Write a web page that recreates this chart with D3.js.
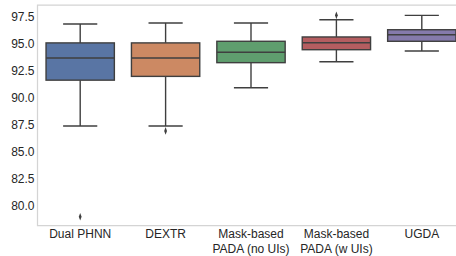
<!DOCTYPE html>
<html>
<head>
<meta charset="utf-8">
<script src="https://cdn.jsdelivr.net/npm/d3@7"></script>
<style>
  body { margin: 0; background: #fff; }
  text { font-family: "Liberation Sans", Arial, sans-serif; fill: #262626; }
</style>
</head>
<body>
<div id="chart"></div>
<script>
var categories = ["Dual PHNN", "DEXTR", "Mask-based\nPADA (no UIs)", "Mask-based\nPADA (w UIs)", "UGDA"];
var whiskerLow = [87.4, 87.4, 90.95, 93.35, 94.35];
var q1 = [91.65, 92.0, 93.27, 94.47, 95.25];
var medians = [93.7, 93.7, 94.23, 95.12, 95.86];
var q3 = [95.1, 95.1, 95.25, 95.65, 96.32];
var whiskerHigh = [96.85, 96.95, 96.95, 97.25, 97.65];
var outliers = [[79.0], [86.95], [], [97.65], []];
var colors = ["#5975a4", "#cc8963", "#5f9e6e", "#b55d60", "#857aab"];
var yTicks = [80.0, 82.5, 85.0, 87.5, 90.0, 92.5, 95.0, 97.5];

var m = [5, 0, 30, 37.5],
  width = 456,
  height = 256;

var svg = d3.select("#chart").append("svg")
  .attr("width", width)
  .attr("height", height);

var x = d3.scaleBand().domain(categories).range([m[3], m[3] + 5 * 85.4]).padding(0);
var y = d3.scaleLinear().domain([78.19, 98.61]).range([225.5, m[0]]);

// spines
svg.append("path")
  .attr("d", "M" + (width + 10) + "," + y.range()[1] + "H" + m[3] + "V" + y.range()[0] + "H" + (width + 10))
  .attr("fill", "none")
  .attr("stroke", "#d4d4d4")
  .attr("stroke-width", 1.25);

// y axis labels
var yAxis = d3.axisLeft(y).tickValues(yTicks).tickSize(0).tickPadding(3)
  .tickFormat(d3.format(".1f"));
var gy = svg.append("g").attr("transform", "translate(" + m[3] + ",0)").call(yAxis);
gy.select(".domain").remove();
gy.selectAll("text").style("font-size", "12px").attr("fill", "#262626")
  .style("font-family", "'Liberation Sans', Arial, sans-serif");

// x axis labels
var xAxis = d3.axisBottom(x).tickSize(0).tickPadding(0);
var gx = svg.append("g").attr("transform", "translate(0," + y.range()[0] + ")").call(xAxis);
gx.select(".domain").remove();
gx.selectAll("text").remove();
gx.selectAll(".tick").each(function(d) {
  var t = d3.select(this).append("text")
    .attr("text-anchor", "middle")
    .attr("fill", "#262626")
    .style("font-size", "12px")
    .style("font-family", "'Liberation Sans', Arial, sans-serif");
  d.split("\n").forEach(function(line, i) {
    t.append("tspan").attr("x", 0).attr("y", 12.5 + i * 15).text(line);
  });
});

var lineColor = "#3f3f3f";
var boxW = x.bandwidth() * 0.8;

categories.forEach(function(c, i) {
  var cx = x(c) + x.bandwidth() / 2;
  var g = svg.append("g");

  // whiskers
  g.append("line").attr("x1", cx).attr("x2", cx)
    .attr("y1", y(q3[i])).attr("y2", y(whiskerHigh[i]))
    .attr("stroke", lineColor).attr("stroke-width", 1.4);
  g.append("line").attr("x1", cx).attr("x2", cx)
    .attr("y1", y(q1[i])).attr("y2", y(whiskerLow[i]))
    .attr("stroke", lineColor).attr("stroke-width", 1.4);

  // caps
  [whiskerHigh[i], whiskerLow[i]].forEach(function(v) {
    g.append("line").attr("x1", cx - boxW / 4).attr("x2", cx + boxW / 4)
      .attr("y1", y(v)).attr("y2", y(v))
      .attr("stroke", lineColor).attr("stroke-width", 1.4);
  });

  // box
  g.append("rect")
    .attr("x", cx - boxW / 2).attr("width", boxW)
    .attr("y", y(q3[i])).attr("height", y(q1[i]) - y(q3[i]))
    .attr("fill", colors[i])
    .attr("stroke", lineColor).attr("stroke-width", 1.4);

  // median
  g.append("line").attr("x1", cx - boxW / 2).attr("x2", cx + boxW / 2)
    .attr("y1", y(medians[i])).attr("y2", y(medians[i]))
    .attr("stroke", lineColor).attr("stroke-width", 1.4);

  // outliers
  g.selectAll("path.flier").data(outliers[i]).enter().append("path")
    .attr("class", "flier")
    .attr("d", d3.symbol().type(d3.symbolDiamond).size(12))
    .attr("transform", function(v) { return "translate(" + cx + "," + y(v) + ") scale(0.75,1.2)"; })
    .attr("fill", lineColor);
});
</script>
</body>
</html>
